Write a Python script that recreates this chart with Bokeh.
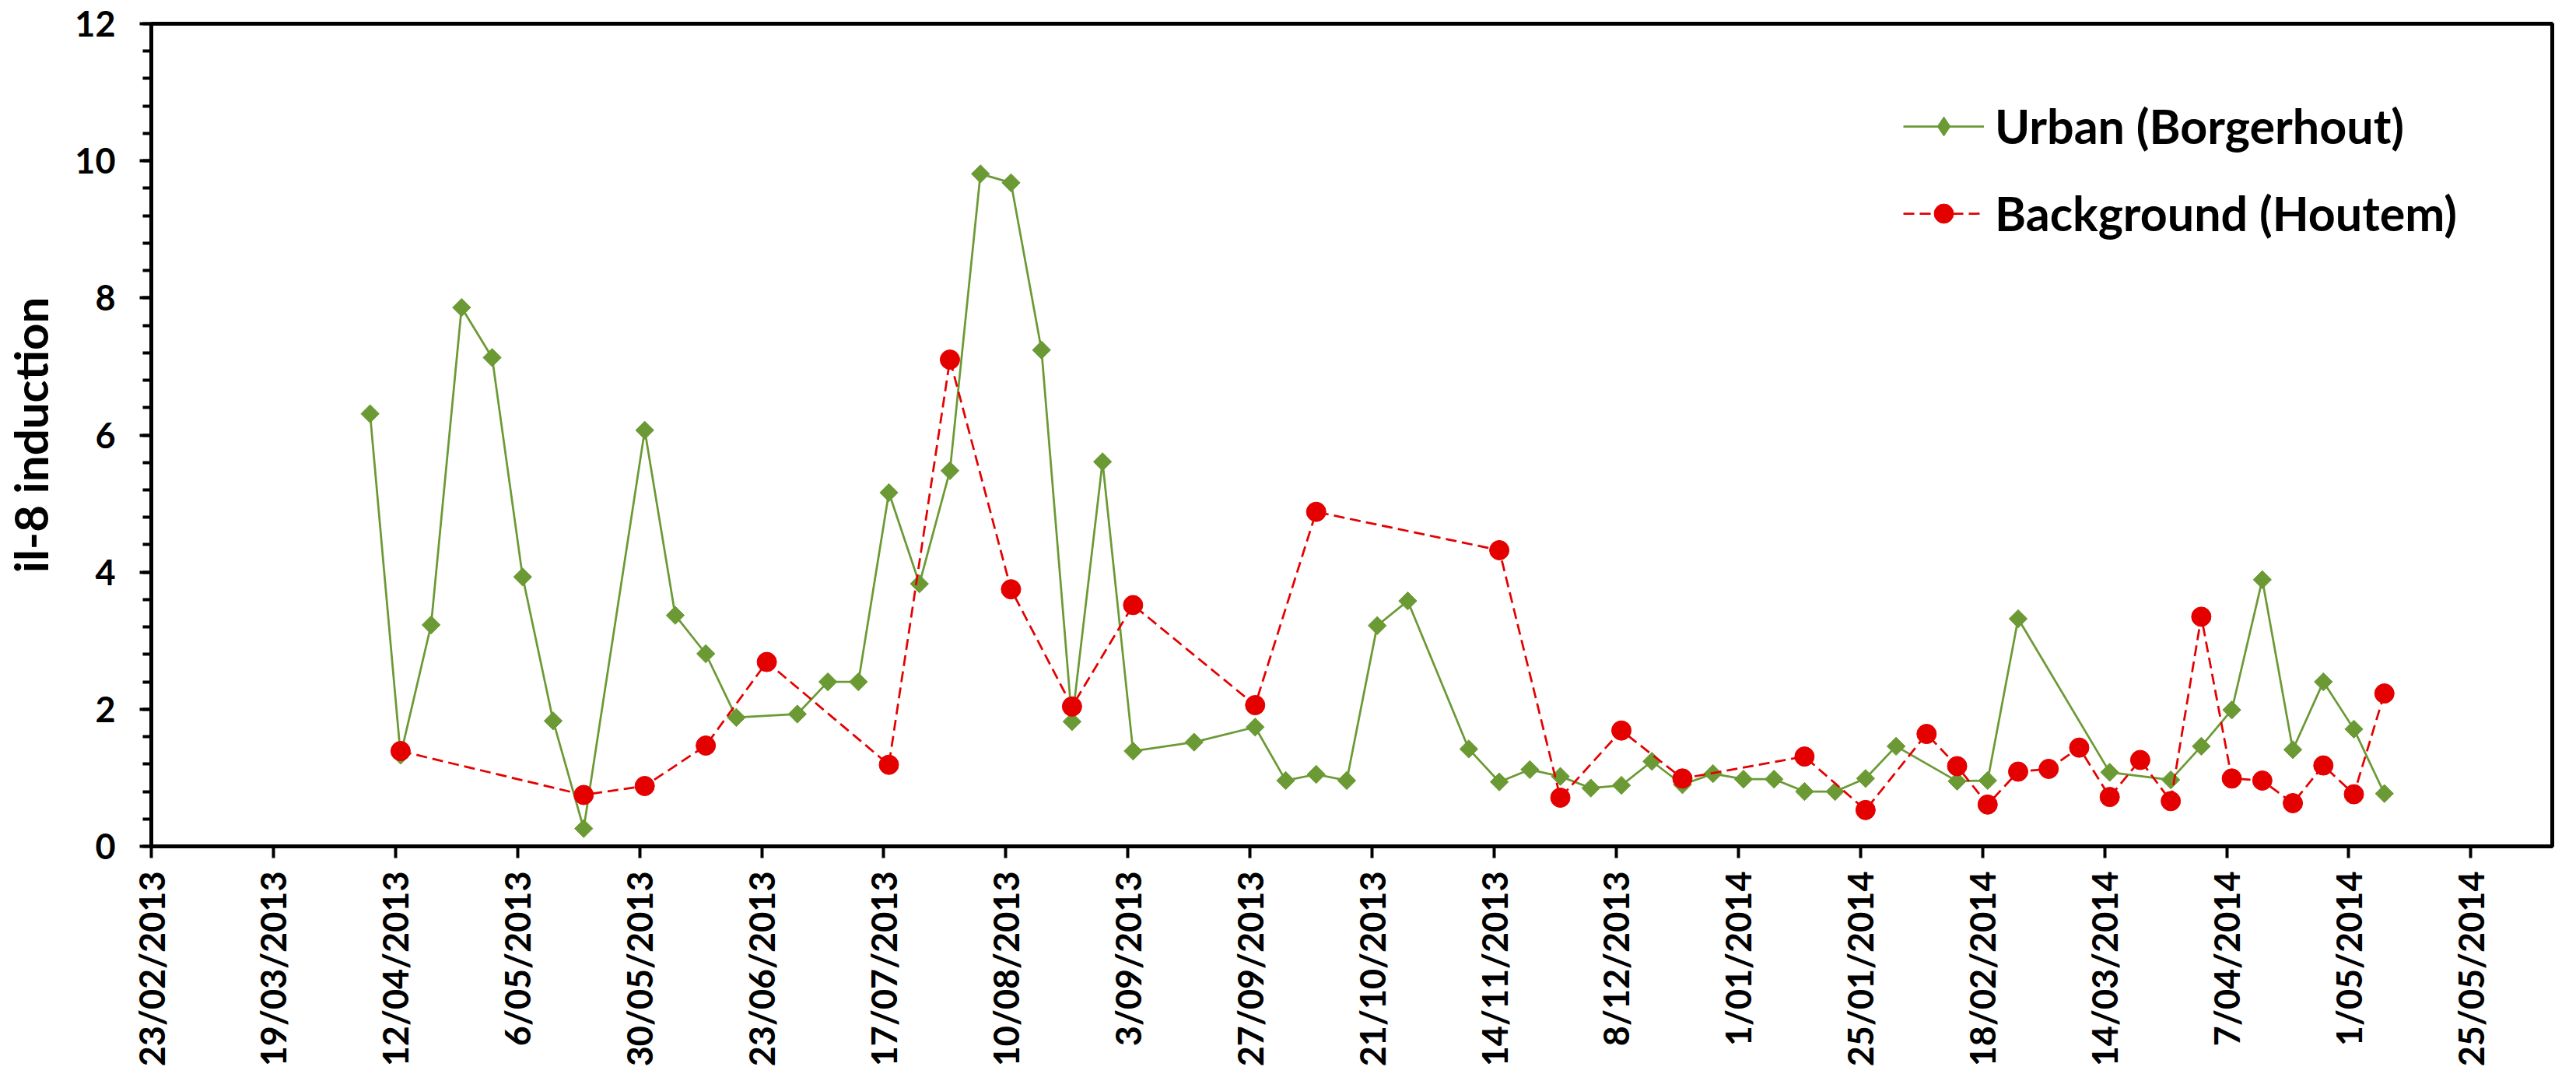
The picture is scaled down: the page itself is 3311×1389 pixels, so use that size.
import math
import pandas as pd
from bokeh.plotting import figure
from bokeh.models import (Range1d, FixedTicker, SingleIntervalTicker, Legend,
                          LegendItem, ColumnDataSource)
from bokeh.embed import file_html
from bokeh.resources import INLINE

# ---------------- data ----------------
urban_dates = [
    "2013-04-07", "2013-04-13", "2013-04-19", "2013-04-25", "2013-05-01", "2013-05-07",
    "2013-05-13", "2013-05-19", "2013-05-31", "2013-06-06", "2013-06-12", "2013-06-18",
    "2013-06-30", "2013-07-06", "2013-07-12", "2013-07-18", "2013-07-24", "2013-07-30",
    "2013-08-05", "2013-08-11", "2013-08-17", "2013-08-23", "2013-08-29", "2013-09-04",
    "2013-09-16", "2013-09-28", "2013-10-04", "2013-10-10", "2013-10-16", "2013-10-22",
    "2013-10-28", "2013-11-09", "2013-11-15", "2013-11-21", "2013-11-27", "2013-12-03",
    "2013-12-09", "2013-12-15", "2013-12-21", "2013-12-27", "2014-01-02", "2014-01-08",
    "2014-01-14", "2014-01-20", "2014-01-26", "2014-02-01", "2014-02-13", "2014-02-19",
    "2014-02-25", "2014-03-15", "2014-03-27", "2014-04-02", "2014-04-08", "2014-04-14",
    "2014-04-20", "2014-04-26", "2014-05-02", "2014-05-08",
]
urban_values = [
    6.31, 1.33, 3.23, 7.86, 7.13, 3.93,
    1.83, 0.26, 6.07, 3.37, 2.81, 1.88,
    1.93, 2.40, 2.40, 5.16, 3.83, 5.48,
    9.81, 9.68, 7.24, 1.82, 5.61, 1.39,
    1.52, 1.74, 0.96, 1.05, 0.96, 3.22,
    3.58, 1.42, 0.94, 1.12, 1.02, 0.85,
    0.89, 1.24, 0.90, 1.06, 0.98, 0.98,
    0.80, 0.80, 0.99, 1.46, 0.95, 0.96,
    3.32, 1.08, 0.97, 1.46, 1.99, 3.89,
    1.41, 2.40, 1.71, 0.77,
]

background_dates = [
    "2013-04-13", "2013-05-19", "2013-05-31", "2013-06-12", "2013-06-24", "2013-07-18",
    "2013-07-30", "2013-08-11", "2013-08-23", "2013-09-04", "2013-09-28", "2013-10-10",
    "2013-11-15", "2013-11-27", "2013-12-09", "2013-12-21", "2014-01-14", "2014-01-26",
    "2014-02-07", "2014-02-13", "2014-02-19", "2014-02-25", "2014-03-03", "2014-03-09",
    "2014-03-15", "2014-03-21", "2014-03-27", "2014-04-02", "2014-04-08", "2014-04-14",
    "2014-04-20", "2014-04-26", "2014-05-02", "2014-05-08",
]
background_values = [
    1.39, 0.75, 0.88, 1.47, 2.69, 1.19,
    7.10, 3.75, 2.04, 3.52, 2.06, 4.88,
    4.32, 0.71, 1.69, 0.99, 1.31, 0.53,
    1.64, 1.17, 0.61, 1.09, 1.13, 1.44,
    0.72, 1.26, 0.66, 3.35, 0.99, 0.96,
    0.63, 1.18, 0.76, 2.23,
]

x_tick_labels = [
    "23/02/2013", "19/03/2013", "12/04/2013", "6/05/2013", "30/05/2013",
    "23/06/2013", "17/07/2013", "10/08/2013", "3/09/2013", "27/09/2013",
    "21/10/2013", "14/11/2013", "8/12/2013", "1/01/2014", "25/01/2014",
    "18/02/2014", "14/03/2014", "7/04/2014", "1/05/2014", "25/05/2014",
]
x_start = "2013-02-23"
x_end = "2014-06-10"
y_min, y_max, y_step = 0, 12, 2

series_names = ["Urban (Borgerhout)", "Background (Houtem)"]
axis_title = "il-8 induction"

# ---------------- helpers ----------------
EPOCH = pd.Timestamp("1970-01-01")


def to_ms(ts):
    return (pd.Timestamp(ts) - EPOCH) / pd.Timedelta(milliseconds=1)


tick_ms = [to_ms(pd.to_datetime(t, format="%d/%m/%Y")) for t in x_tick_labels]

FONT = "Lato"
GREEN = "#6B9A35"
RED = "#E50000"

p = figure(width=3295, height=1373, x_axis_type="datetime",
           x_range=Range1d(to_ms(x_start), to_ms(x_end)),
           y_range=Range1d(y_min, y_max),
           output_backend="svg", toolbar_location=None,
           min_border_left=180, min_border_right=15,
           min_border_top=30, min_border_bottom=281)

p.background_fill_color = "white"
p.border_fill_color = "white"
p.outline_line_color = "black"
p.outline_line_width = 5
p.xgrid.visible = False
p.ygrid.visible = False

# x axis
xa = p.xaxis[0]
xa.ticker = FixedTicker(ticks=tick_ms)
xa.major_label_overrides = {t: lab for t, lab in zip(tick_ms, x_tick_labels)}
xa.major_label_orientation = math.pi / 2
xa.major_label_text_font = FONT
xa.major_label_text_font_style = "bold"
xa.major_label_text_font_size = "45px"
xa.major_label_text_color = "black"
xa.major_label_standoff = 17
xa.axis_line_width = 5
xa.axis_line_color = "black"
xa.major_tick_line_width = 4
xa.major_tick_line_color = "black"
xa.major_tick_out = 15
xa.major_tick_in = 0
xa.minor_tick_line_color = None

# y axis
ya = p.yaxis[0]
ya.ticker = SingleIntervalTicker(interval=y_step, num_minor_ticks=5)
ya.major_label_text_font = FONT
ya.major_label_text_font_style = "bold"
ya.major_label_text_font_size = "45px"
ya.major_label_text_color = "black"
ya.major_label_standoff = 31
ya.axis_line_width = 5
ya.axis_line_color = "black"
ya.major_tick_line_width = 4
ya.major_tick_out = 15
ya.major_tick_in = 0
ya.minor_tick_line_width = 4
ya.minor_tick_line_color = "black"
ya.minor_tick_out = 11
ya.minor_tick_in = 0
ya.axis_label = axis_title
ya.axis_label_text_font = FONT
ya.axis_label_text_font_style = "bold"
ya.axis_label_text_font_size = "60px"
ya.axis_label_text_color = "black"
ya.axis_label_standoff = 18

# series
src_u = ColumnDataSource(dict(x=[to_ms(d) for d in urban_dates], y=urban_values))
src_b = ColumnDataSource(dict(x=[to_ms(d) for d in background_dates], y=background_values))

lu = p.line("x", "y", source=src_u, line_color=GREEN, line_width=2.75)
mu = p.scatter("x", "y", source=src_u, marker="square", size=16.5, angle=math.pi / 4,
               fill_color=GREEN, line_color=GREEN, line_width=1)
lb = p.line("x", "y", source=src_b, line_color=RED, line_width=2.75, line_dash="14 7")
mb = p.scatter("x", "y", source=src_b, marker="circle", size=25,
               fill_color=RED, line_color=RED, line_width=1)

# legend key: diamond marker (legend keys are drawn unrotated, so use the
# diamond shape there); size 0 keeps it out of the plot area itself
ku = p.scatter("x", "y", source=src_u, marker="diamond", size=0,
               fill_color=GREEN, line_color=GREEN, line_width=1)

legend = Legend(items=[LegendItem(label=series_names[0], renderers=[lu, ku]),
                       LegendItem(label=series_names[1], renderers=[lb, mb])],
                location=(2252, 777))
legend.label_text_font = FONT
legend.label_text_font_style = "bold"
legend.label_text_font_size = "61px"
legend.label_text_color = "black"
legend.glyph_width = 104
legend.glyph_height = 62
legend.label_standoff = 14
legend.spacing = 39
legend.padding = 0
legend.margin = 0
legend.border_line_color = None
legend.background_fill_alpha = 0
p.add_layout(legend)

open("out.html", "w").write(file_html(p, INLINE))
